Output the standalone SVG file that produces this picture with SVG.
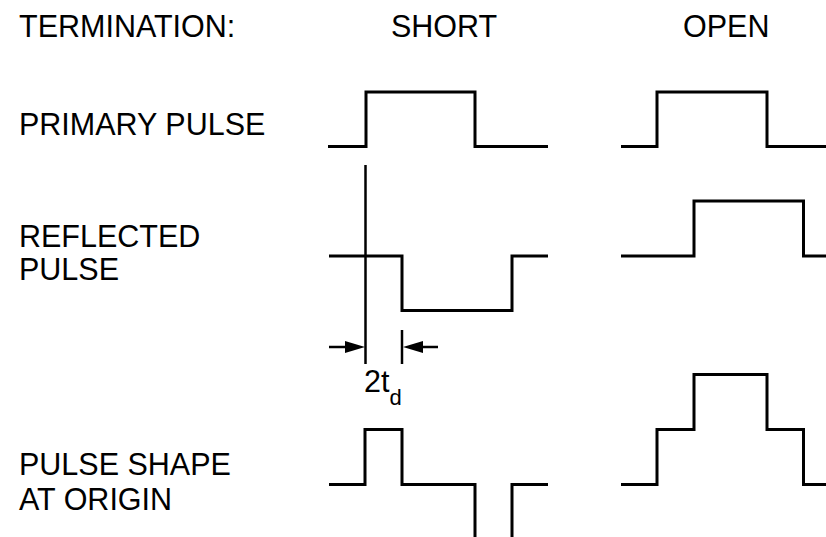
<svg xmlns="http://www.w3.org/2000/svg" width="826" height="537" viewBox="0 0 826 537">
<style>
text{font-family:"Liberation Sans",Arial,sans-serif;font-size:30.5px;fill:#000}
.w{fill:none;stroke:#000;stroke-width:3;stroke-linejoin:miter;stroke-linecap:butt}
.m{fill:none;stroke:#000;stroke-width:2.5}
.ah{fill:#000;stroke:none}
</style>
<rect width="826" height="537" fill="#fff"/>
<g id="labels">
<text x="19" y="37">TERMINATION:</text>
<text x="391" y="37">SHORT</text>
<text x="683" y="37">OPEN</text>
<text x="19" y="135">PRIMARY PULSE</text>
<text x="19" y="247">REFLECTED</text>
<text x="19" y="280">PULSE</text>
<text x="19" y="475">PULSE SHAPE</text>
<text x="19" y="510">AT ORIGIN</text>
</g>
<g id="short-primary"><path class="w" d="M328,146.5 H366 V92 H475 V146.5 H548"/></g>
<g id="open-primary"><path class="w" d="M621,146.5 H657 V92 H767 V146.5 H826"/></g>
<g id="short-reflected"><path class="w" d="M329,256 H402 V310.5 H512 V256 H548"/></g>
<g id="open-reflected"><path class="w" d="M621,256 H694 V201 H803.5 V256 H826"/></g>
<g id="short-origin">
<path class="w" d="M329,484.5 H365 V429.5 H402 V484.5 H475 V537"/>
<path class="w" d="M512,537 V484.5 H548"/>
</g>
<g id="open-origin"><path class="w" d="M621,484.5 H657 V429.5 H694 V374.5 H767 V429.5 H803.5 V484.5 H826"/></g>
<g id="connectors">
<line class="m" x1="365.5" y1="165" x2="365.5" y2="364"/>
<line class="m" x1="402" y1="330" x2="402" y2="364"/>
<line class="m" x1="329" y1="347" x2="350" y2="347"/>
<polygon class="ah" points="365,347 345,341 345,353"/>
<line class="m" x1="438" y1="347" x2="418" y2="347"/>
<polygon class="ah" points="403,347 423,341 423,353"/>
</g>
<g id="dim-label">
<text x="364" y="392">2t<tspan font-size="22" dy="13">d</tspan></text>
</g>
</svg>
